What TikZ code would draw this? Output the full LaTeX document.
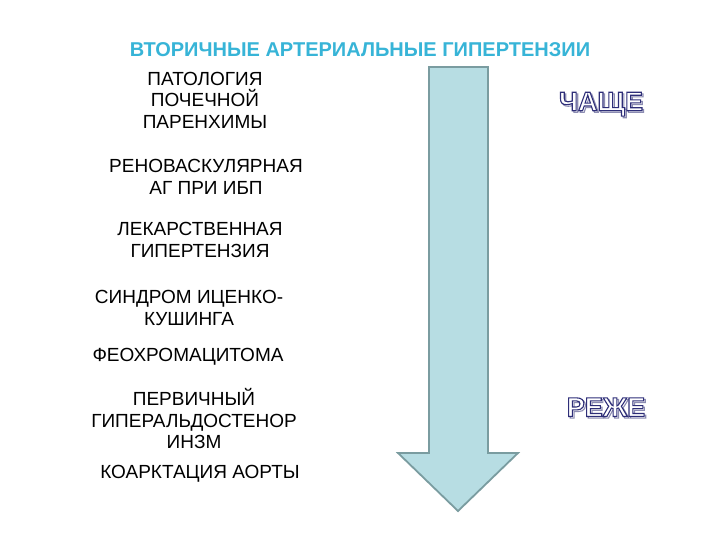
\documentclass[tikz,border=0pt]{standalone}
\usepackage{fontspec}
\setmainfont{Liberation Sans}
\definecolor{titleblue}{RGB}{55,180,215}
\definecolor{arrowfill}{RGB}{183,221,227}
\definecolor{arrowline}{RGB}{122,156,160}
\tikzset{
  item/.style={align=center, font=\fontsize{19}{21.5}\selectfont, inner sep=0pt},
  hollow/.style={font=\fontsize{27}{29}\selectfont\bfseries, inner sep=0pt},
}
\newcommand{\strokedtxt}[2]{{\color{white}\special{pdf:literal 2 Tr #1 RG 1.1 w}#2\special{pdf:literal 0 Tr}}}
\newcommand{\hollowtxt}[1]{\makebox[0pt][l]{\hspace{1.6pt}\raisebox{-1.6pt}{\strokedtxt{0.55 0.55 0.7}{#1}}}\strokedtxt{0.18 0.18 0.47}{#1}}
\begin{document}
\begin{tikzpicture}[x=1pt,y=-1pt]
\useasboundingbox (0,0) rectangle (720,540);
\fill[white] (0,0) rectangle (720,540);
\node[font=\fontsize{20}{22}\selectfont\bfseries, text=titleblue, inner sep=0pt] (title) at (360,50) {ВТОРИЧНЫЕ АРТЕРИАЛЬНЫЕ ГИПЕРТЕНЗИИ};
\draw[fill=arrowfill, draw=arrowline, line width=1.8pt, line join=miter]
  (429,67) -- (488,67) -- (488,453) -- (518,453) -- (458,511) -- (398,453) -- (429,453) -- cycle;
\node[item] (t1) at (205,100) {ПАТОЛОГИЯ\\ПОЧЕЧНОЙ\\ПАРЕНХИМЫ};
\node[item] (t2) at (206,177) {РЕНОВАСКУЛЯРНАЯ\\АГ ПРИ ИБП};
\node[item] (t3) at (200,240) {ЛЕКАРСТВЕННАЯ\\ГИПЕРТЕНЗИЯ};
\node[item] (t4) at (189,308) {СИНДРОМ ИЦЕНКО-\\КУШИНГА};
\node[item] (t5) at (188,357) {ФЕОХРОМАЦИТОМА};
\node[item] (t6) at (194,419) {ПЕРВИЧНЫЙ\\ГИПЕРАЛЬДОСТЕНОР\\ИНЗМ};
\node[item] (t7) at (200,474) {КОАРКТАЦИЯ АОРТЫ};
\node[hollow] (often) at (601,105) {\hollowtxt{ЧАЩЕ}};
\node[hollow] (rare) at (606,408) {\hollowtxt{РЕЖЕ}};
\end{tikzpicture}
\end{document}
